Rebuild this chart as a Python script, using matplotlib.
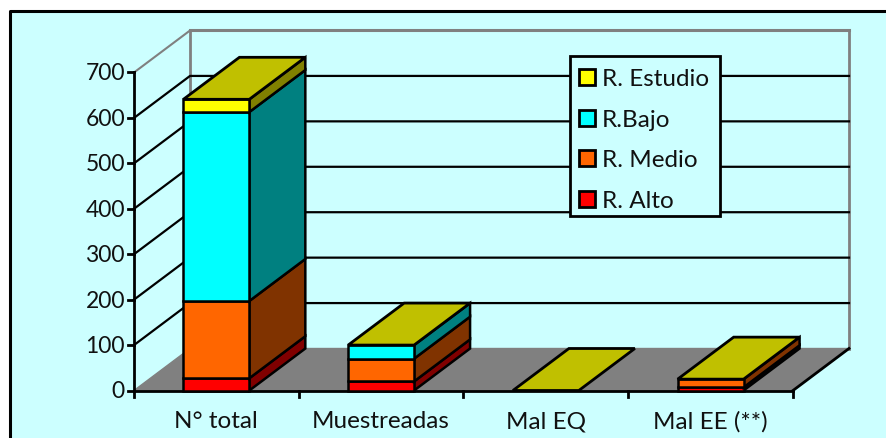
# Stacked 3D-look column chart, drawn with flat polygons on one axes
import matplotlib
matplotlib.use('Agg')
import matplotlib.pyplot as plt
from matplotlib.patches import Polygon, Rectangle

# --- Data ---
categories = ['N° total', 'Muestreadas', 'Mal EQ', 'Mal EE (**)']
r_alto = [27, 20, 0, 7]
r_medio = [170, 50, 0, 18]
r_bajo = [416, 30, 0, 0]
r_estudio = [28, 0, 0, 0]
y_ticks = [0, 100, 200, 300, 400, 500, 600, 700]

series = [('R. Alto', r_alto, '#FF0000', '#800000'),
          ('R. Medio', r_medio, '#FF6600', '#803300'),
          ('R.Bajo', r_bajo, '#00FFFF', '#008080'),
          ('R. Estudio', r_estudio, '#FFFF00', '#808000')]

# --- Layout (pixels of the 887x438 picture) ---
W, H = 887, 438
x0_px, x1_px = 134, 793
y0_px, y700_px = 390.5, 72.5
px_x = (x1_px - x0_px) / len(categories)
px_y = (y0_px - y700_px) / 700
dx = 56 / px_x   # depth offset in category units
dy = 42 / px_y   # depth offset in value units
bar_w = 0.4
bg = '#CCFFFF'
grey = '#808080'
txt = '#111111'

plt.rcParams['font.family'] = ['Lato', 'DejaVu Sans']
fig = plt.figure(figsize=(W / 100, H / 100), dpi=100, facecolor='white')
ax = fig.add_axes([0, 0, 1, 1])
ax.set_xlim(-x0_px / px_x, (W - x0_px) / px_x)
ax.set_ylim(-(H - y0_px) / px_y, y0_px / px_y)
ax.axis('off')

n = len(categories)
to_x = lambda px: (px - x0_px) / px_x
to_y = lambda py: (y0_px - py) / px_y

# Background with black edge on top and left only
ax.add_patch(Rectangle((to_x(10), to_y(H + 5)), (W + 5) / px_x, (H + 5 - 11) / px_y,
                       facecolor=bg, edgecolor='none', zorder=0))
ax.plot([to_x(10), to_x(10), to_x(W + 5)], [to_y(H + 5), to_y(11), to_y(11)], color='black', lw=2.2, zorder=0.5)

# Floor and walls
ax.add_patch(Polygon([(0, 0), (n, 0), (n + dx, dy), (dx, dy)], facecolor=grey, edgecolor=grey, lw=1, zorder=1))
ax.plot([dx, dx], [dy, 700 + dy], color=grey, lw=2, zorder=1)
ax.plot([n + dx, n + dx], [dy, 700 + dy], color=grey, lw=2, zorder=1)
ax.plot([dx, n + dx], [700 + dy, 700 + dy], color=grey, lw=2.2, zorder=1)
ax.plot([0, dx], [700, 700 + dy], color=grey, lw=1.5, zorder=1)
ax.plot([0, 0], [0, 700], color='black', lw=2, zorder=6)
ax.plot([n, n + dx], [0, dy], color='black', lw=2, zorder=2)

# Gridlines along side wall and back wall
for v in y_ticks[1:-1]:
    ax.plot([0, dx, n + dx], [v, v + dy, v + dy], color='black', lw=1.6, zorder=1.5)

# Axis and tick labels
ax.plot([0, n], [0, 0], color='black', lw=2, zorder=2.5)
for v in y_ticks:
    ax.plot([-6 / px_x, 0], [v, v], color='black', lw=2, zorder=6)
    ax.text(-9 / px_x, v - 1.5 / px_y, str(v), ha='right', va='center', fontsize=16.5, color=txt)
for i in range(n + 1):
    ax.plot([i, i], [0, -6 / px_y], color='black', lw=2, zorder=6)
for i, c in enumerate(categories):
    ax.text(i + 0.5, to_y(421.5), c, ha='center', va='center', fontsize=17.5, color=txt)

# Bars, front to top
for i in range(n):
    left = i + 0.5 - bar_w / 2
    right = left + bar_w
    base = 0
    for name, vals, col, side in series:
        v = vals[i]
        if v > 0:
            ax.add_patch(Polygon([(right, base), (right + dx, base + dy), (right + dx, base + v + dy), (right, base + v)],
                                 facecolor=side, edgecolor='black', lw=1.8, zorder=3))
            ax.add_patch(Rectangle((left, base), bar_w, v, facecolor=col, edgecolor='black', lw=1.8, zorder=3))
        base += v
    ax.add_patch(Polygon([(left, base), (right, base), (right + dx, base + dy), (left + dx, base + dy)],
                         facecolor='#C0C000', edgecolor='black', lw=2, zorder=4))

# Legend
ax.add_patch(Rectangle((to_x(570), to_y(216)), 150 / px_x, 160 / px_y, facecolor=bg, edgecolor='black', lw=2, zorder=5))
for name, py in zip(['R. Estudio', 'R.Bajo', 'R. Medio', 'R. Alto'], [77, 118, 158, 199]):
    col = [s[2] for s in series if s[0] == name][0]
    ax.add_patch(Rectangle((to_x(579), to_y(py + 8)), 16 / px_x, 16 / px_y, facecolor=col, edgecolor='black', lw=2, zorder=6))
    ax.text(to_x(602), to_y(py + 2.5), name, ha='left', va='center', fontsize=17.5, color=txt, zorder=6)

fig.savefig('out.png', dpi=100, facecolor='white')
